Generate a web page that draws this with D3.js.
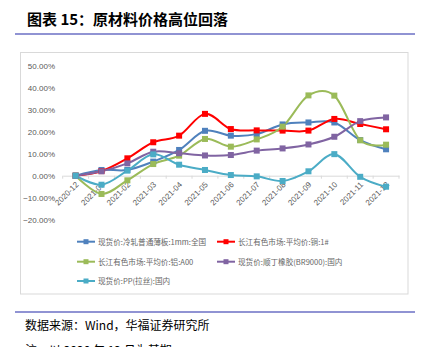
<!DOCTYPE html>
<html><head><meta charset="utf-8">
<script src="https://cdn.jsdelivr.net/npm/d3@7"></script>
<style>
body{margin:0;background:#fff;}
svg{display:block;}
</style>
</head><body>
<svg id="c" width="433" height="347"></svg>
<script>
const categories = ["2020-12","2021-01","2021-02","2021-03","2021-04","2021-05","2021-06","2021-07","2021-08","2021-09","2021-10","2021-11","2021-12"];
const steel  = [0, 2.6, 2.6, 6.4, 11.7, 20.4, 18.2, 18.9, 23.3, 24.2, 24.2, 16.2, 12.0];
const copper = [0, 2.1, 7.9, 15.2, 18.2, 28.1, 21.2, 20.6, 20.5, 20.5, 25.8, 23.5, 21.1];
const alum   = [0, -8.3, -2.1, 5.3, 9.1, 16.7, 13.2, 16.5, 22.3, 36.5, 36.4, 16.1, 14.1];
const rubber = [0, 2.0, 5.6, 10.9, 10.2, 9.2, 9.4, 11.4, 12.4, 14.2, 17.7, 24.8, 26.5];
const pp     = [0, -4.1, 2.3, 9.7, 5.0, 2.6, 0.3, -0.3, -2.4, 2.0, 9.8, -0.5, -5.0];
const seriesNames = ["现货价:冷轧普通薄板:1mm:全国","长江有色市场:平均价:铜:1#","长江有色市场:平均价:铝:A00","现货价:顺丁橡胶(BR9000):国内","现货价:PP(拉丝):国内"];
const seriesColors = ["#4f81bd","#ff0000","#9bbb59","#8064a2","#4bacc6"];
const yTicks = [-20,-10,0,10,20,30,40,50];

const series = [steel, copper, alum, rubber, pp].map((v,i)=>({name:seriesNames[i], color:seriesColors[i], values:v}));

const svg = d3.select("#c");
const font = "'Noto Sans CJK SC','Noto Sans',sans-serif";

// Title
svg.append("text").attr("x",27).attr("y",25).attr("font-family",font).attr("font-weight","bold")
  .attr("font-size",15).attr("fill","#000").text("图表 15：原材料价格高位回落");
svg.append("line").attr("x1",15).attr("x2",415).attr("y1",34).attr("y2",34).attr("stroke","#6b6fc4").attr("stroke-width",1.3);

// Chart box
svg.append("rect").attr("x",20.5).attr("y",52.5).attr("width",387.5).attr("height",241.5)
  .attr("fill","none").attr("stroke","#d9d9d9").attr("stroke-width",1);

const x = d3.scaleBand().domain(categories).range([62.7,399]);
const y = d3.scaleLinear().domain([-20,50]).range([219.7,65.7]);
const cx = d => x(d) + x.bandwidth()/2;

// y labels
const yAxis = d3.axisLeft(y).tickValues(yTicks).tickSize(0).tickPadding(0)
  .tickFormat(d => d3.format(".2f")(d) + "%");
const ya = svg.append("g").attr("transform","translate(55,0)").call(yAxis);
ya.select(".domain").remove();
ya.selectAll("text").attr("font-family","'Liberation Sans',Arial,sans-serif").attr("font-size",8).attr("fill","#595959");

// x axis at zero
const xAxis = d3.axisBottom(x).tickSizeOuter(0).tickSize(0).tickFormat("");
const xa = svg.append("g").attr("transform",`translate(0,${y(0)})`).call(xAxis);
xa.select(".domain").attr("stroke","#d9d9d9");
// boundary tick marks
svg.append("g").selectAll("line").data(categories.concat(["end"])).join("line")
  .attr("x1",(d,i)=>62.7 + i*x.bandwidth()).attr("x2",(d,i)=>62.7 + i*x.bandwidth())
  .attr("y1",y(0)).attr("y2",y(0)+3).attr("stroke","#d9d9d9");

// x labels rotated
svg.append("g").selectAll("text").data(categories).join("text")
  .attr("transform", d => `translate(${cx(d)+3.5},${y(0)+9.5}) rotate(-45)`)
  .attr("text-anchor","end").attr("font-family","'Liberation Sans',Arial,sans-serif")
  .attr("font-size",8).attr("fill","#595959").text(d=>d);

// lines
const line = d3.line().x((d,i)=>cx(categories[i])).y(d=>y(d)).curve(d3.curveCardinal.tension(0));
const g = svg.append("g");
series.forEach(s=>{
  g.append("path").attr("d",line(s.values)).attr("fill","none").attr("stroke",s.color).attr("stroke-width",2);
});
series.forEach(s=>{
  g.append("g").selectAll("rect").data(s.values).join("rect")
    .attr("x",(d,i)=>cx(categories[i])-3).attr("y",d=>y(d)-3)
    .attr("width",6).attr("height",6).attr("fill",s.color);
});

// legend
const legendPos = [[77,241.7],[217,241.7],[77,261.7],[217,261.7],[77,281]];
const lg = svg.append("g");
series.forEach((s,i)=>{
  const [lx,ly] = legendPos[i];
  lg.append("line").attr("x1",lx).attr("x2",lx+18).attr("y1",ly).attr("y2",ly).attr("stroke",s.color).attr("stroke-width",2);
  lg.append("rect").attr("x",lx+6.5).attr("y",ly-2.5).attr("width",5).attr("height",5).attr("fill",s.color);
  lg.append("text").attr("x",lx+21).attr("y",ly+3).attr("font-family",font).attr("font-size",7.6)
    .attr("fill","#666").text(s.name);
});

// bottom
svg.append("line").attr("x1",15).attr("x2",415).attr("y1",312).attr("y2",312).attr("stroke","#6b6fc4").attr("stroke-width",1.3);
svg.append("text").attr("x",25).attr("y",330).attr("font-family",font).attr("font-size",12).attr("fill","#000")
  .text("数据来源：Wind，华福证券研究所");
svg.append("text").attr("x",25).attr("y",355).attr("font-family",font).attr("font-size",12).attr("fill","#000")
  .text("注：以 2020 年 12 月为基期");
</script>
</body></html>
